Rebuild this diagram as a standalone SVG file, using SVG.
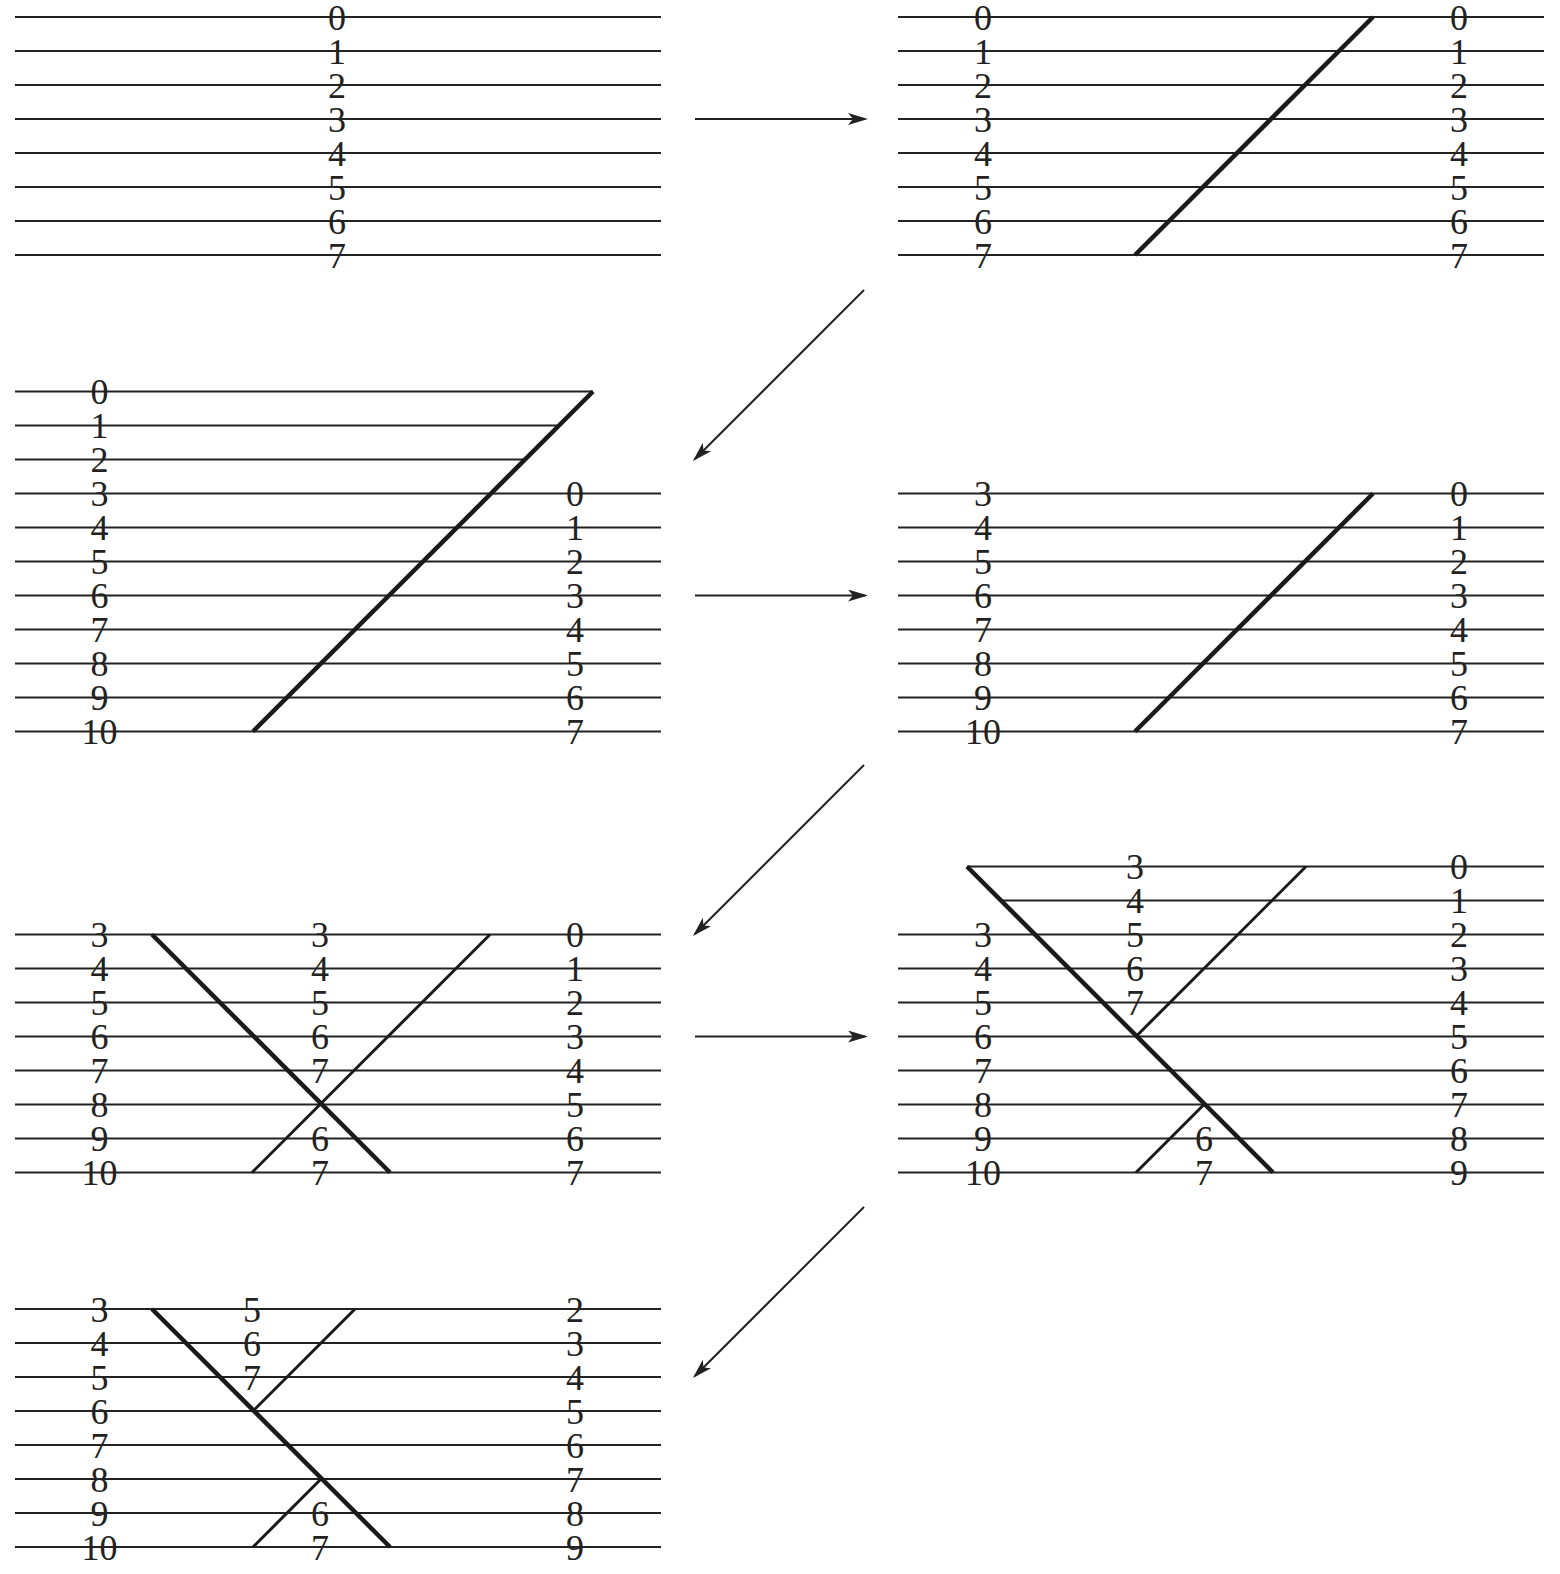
<svg xmlns="http://www.w3.org/2000/svg" width="1560" height="1574" viewBox="0 0 1560 1574">
<style>
.l{stroke:#222;stroke-width:2;fill:none}
.t{stroke:#1a1a1a;stroke-width:4.5;fill:none;stroke-linecap:butt}
.m{stroke:#1a1a1a;stroke-width:3;fill:none}
.a{stroke:#222;stroke-width:2;fill:none;marker-end:url(#ah)}
text{font-family:"Liberation Serif","Times New Roman",serif;font-size:36px;fill:#222;text-anchor:middle}
</style>
<defs>
<marker id="ah" markerUnits="userSpaceOnUse" viewBox="0 0 20 12" refX="17" refY="6" markerWidth="20" markerHeight="12" orient="auto">
<path d="M0,0 L20,6 L0,12 L5,6 z" fill="#222"/>
</marker>
</defs>
<rect width="1560" height="1574" fill="#fff"/>

<g id="panel1">
<path class="l" d="M15,17H661M15,51H661M15,85H661M15,119H661M15,153H661M15,187H661M15,221H661M15,255H661"/>
<text x="337" y="29.5">0</text><text x="337" y="63.5">1</text><text x="337" y="97.5">2</text><text x="337" y="131.5">3</text>
<text x="337" y="165.5">4</text><text x="337" y="199.5">5</text><text x="337" y="233.5">6</text><text x="337" y="267.5">7</text>
</g>

<g id="panel2">
<path class="l" d="M898,17H1544M898,51H1544M898,85H1544M898,119H1544M898,153H1544M898,187H1544M898,221H1544M898,255H1544"/>
<line class="t" x1="1373" y1="17" x2="1135" y2="255"/>
<text x="983" y="29.5">0</text><text x="983" y="63.5">1</text><text x="983" y="97.5">2</text><text x="983" y="131.5">3</text>
<text x="983" y="165.5">4</text><text x="983" y="199.5">5</text><text x="983" y="233.5">6</text><text x="983" y="267.5">7</text>
<text x="1459" y="29.5">0</text><text x="1459" y="63.5">1</text><text x="1459" y="97.5">2</text><text x="1459" y="131.5">3</text>
<text x="1459" y="165.5">4</text><text x="1459" y="199.5">5</text><text x="1459" y="233.5">6</text><text x="1459" y="267.5">7</text>
</g>

<g id="panel3">
<path class="l" d="M15,391.5H593M15,425.5H559M15,459.5H525M15,493.5H661M15,527.5H661M15,561.5H661M15,595.5H661M15,629.5H661M15,663.5H661M15,697.5H661M15,731.5H661"/>
<line class="t" x1="593" y1="391.5" x2="253" y2="731.5"/>
<text x="99.5" y="404">0</text><text x="99.5" y="438">1</text><text x="99.5" y="472">2</text><text x="99.5" y="506">3</text>
<text x="99.5" y="540">4</text><text x="99.5" y="574">5</text><text x="99.5" y="608">6</text><text x="99.5" y="642">7</text>
<text x="99.5" y="676">8</text><text x="99.5" y="710">9</text><text x="99.5" y="744">10</text>
<text x="575" y="506">0</text><text x="575" y="540">1</text><text x="575" y="574">2</text><text x="575" y="608">3</text>
<text x="575" y="642">4</text><text x="575" y="676">5</text><text x="575" y="710">6</text><text x="575" y="744">7</text>
</g>

<g id="panel4">
<path class="l" d="M898,493.5H1544M898,527.5H1544M898,561.5H1544M898,595.5H1544M898,629.5H1544M898,663.5H1544M898,697.5H1544M898,731.5H1544"/>
<line class="t" x1="1373" y1="493.5" x2="1135" y2="731.5"/>
<text x="983" y="506">3</text><text x="983" y="540">4</text><text x="983" y="574">5</text><text x="983" y="608">6</text>
<text x="983" y="642">7</text><text x="983" y="676">8</text><text x="983" y="710">9</text><text x="983" y="744">10</text>
<text x="1459" y="506">0</text><text x="1459" y="540">1</text><text x="1459" y="574">2</text><text x="1459" y="608">3</text>
<text x="1459" y="642">4</text><text x="1459" y="676">5</text><text x="1459" y="710">6</text><text x="1459" y="744">7</text>
</g>

<g id="panel5">
<path class="l" d="M15,934.5H661M15,968.5H661M15,1002.5H661M15,1036.5H661M15,1070.5H661M15,1104.5H661M15,1138.5H661M15,1172.5H661"/>
<line class="t" x1="152" y1="934.5" x2="390" y2="1172.5"/>
<line class="m" x1="490" y1="934.5" x2="252" y2="1172.5"/>
<text x="99.5" y="947">3</text><text x="99.5" y="981">4</text><text x="99.5" y="1015">5</text><text x="99.5" y="1049">6</text>
<text x="99.5" y="1083">7</text><text x="99.5" y="1117">8</text><text x="99.5" y="1151">9</text><text x="99.5" y="1185">10</text>
<text x="320" y="947">3</text><text x="320" y="981">4</text><text x="320" y="1015">5</text><text x="320" y="1049">6</text>
<text x="320" y="1083">7</text><text x="320" y="1151">6</text><text x="320" y="1185">7</text>
<text x="575" y="947">0</text><text x="575" y="981">1</text><text x="575" y="1015">2</text><text x="575" y="1049">3</text>
<text x="575" y="1083">4</text><text x="575" y="1117">5</text><text x="575" y="1151">6</text><text x="575" y="1185">7</text>
</g>

<g id="panel6">
<path class="l" d="M967,866.5H1544M1001,900.5H1544M898,934.5H1544M898,968.5H1544M898,1002.5H1544M898,1036.5H1544M898,1070.5H1544M898,1104.5H1544M898,1138.5H1544M898,1172.5H1544"/>
<line class="t" x1="967" y1="866.5" x2="1273" y2="1172.5"/>
<line class="m" x1="1306" y1="866.5" x2="1136" y2="1036.5"/>
<line class="m" x1="1204" y1="1104.5" x2="1136" y2="1172.5"/>
<text x="983" y="947">3</text><text x="983" y="981">4</text><text x="983" y="1015">5</text><text x="983" y="1049">6</text>
<text x="983" y="1083">7</text><text x="983" y="1117">8</text><text x="983" y="1151">9</text><text x="983" y="1185">10</text>
<text x="1135" y="879">3</text><text x="1135" y="913">4</text><text x="1135" y="947">5</text><text x="1135" y="981">6</text><text x="1135" y="1015">7</text>
<text x="1204" y="1151">6</text><text x="1204" y="1185">7</text>
<text x="1459" y="879">0</text><text x="1459" y="913">1</text><text x="1459" y="947">2</text><text x="1459" y="981">3</text>
<text x="1459" y="1015">4</text><text x="1459" y="1049">5</text><text x="1459" y="1083">6</text><text x="1459" y="1117">7</text>
<text x="1459" y="1151">8</text><text x="1459" y="1185">9</text>
</g>

<g id="panel7">
<path class="l" d="M15,1309H661M15,1343H661M15,1377H661M15,1411H661M15,1445H661M15,1479H661M15,1513H661M15,1547H661"/>
<line class="t" x1="152" y1="1309" x2="390" y2="1547"/>
<line class="m" x1="355" y1="1309" x2="253" y2="1411"/>
<line class="m" x1="321" y1="1479" x2="253" y2="1547"/>
<text x="99.5" y="1321.5">3</text><text x="99.5" y="1355.5">4</text><text x="99.5" y="1389.5">5</text><text x="99.5" y="1423.5">6</text>
<text x="99.5" y="1457.5">7</text><text x="99.5" y="1491.5">8</text><text x="99.5" y="1525.5">9</text><text x="99.5" y="1559.5">10</text>
<text x="252" y="1321.5">5</text><text x="252" y="1355.5">6</text><text x="252" y="1389.5">7</text>
<text x="320" y="1525.5">6</text><text x="320" y="1559.5">7</text>
<text x="575" y="1321.5">2</text><text x="575" y="1355.5">3</text><text x="575" y="1389.5">4</text><text x="575" y="1423.5">5</text>
<text x="575" y="1457.5">6</text><text x="575" y="1491.5">7</text><text x="575" y="1525.5">8</text><text x="575" y="1559.5">9</text>
</g>

<g id="connectors">
<line class="a" x1="695" y1="119" x2="865" y2="119"/>
<line class="a" x1="864" y1="290" x2="695" y2="459"/>
<line class="a" x1="695" y1="595.5" x2="865" y2="595.5"/>
<line class="a" x1="864" y1="765" x2="695" y2="934"/>
<line class="a" x1="695" y1="1036.5" x2="865" y2="1036.5"/>
<line class="a" x1="864" y1="1207" x2="695" y2="1376"/>
</g>
</svg>
